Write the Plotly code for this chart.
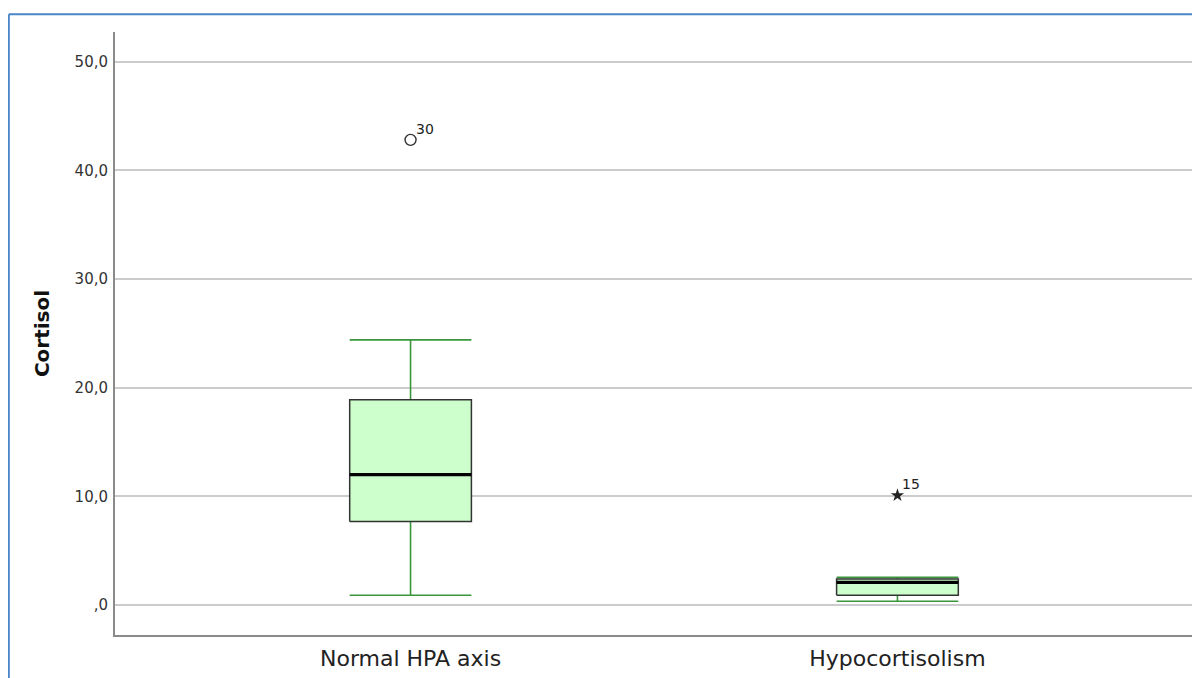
import plotly.graph_objects as go

# ---- data ----
categories = ["Normal HPA axis", "Hypocortisolism"]
positions = [0, 1]
q1 = [7.7, 0.9]
median = [12.0, 2.1]
q3 = [18.9, 2.4]
lower_whisker = [0.9, 0.35]
upper_whisker = [24.4, 2.55]
outlier_pos = [0]
outlier_val = [42.8]
outlier_lab = ["30"]
extreme_pos = [1]
extreme_val = [10.1]
extreme_lab = ["15"]
ytick_vals = [0, 10, 20, 30, 40, 50]
ytick_text = [",0", "10,0", "20,0", "30,0", "40,0", "50,0"]

BOX_W = 0.25
CAP_W = 0.125
GREEN = "#3a963a"
FONT = "DejaVu Sans"

fig = go.Figure()

# whiskers (green) drawn first
for p, lo, hi, a, b in zip(positions, lower_whisker, upper_whisker, q1, q3):
    for y0, y1 in ((lo, a), (b, hi)):
        fig.add_trace(go.Scatter(x=[p, p], y=[y0, y1], mode="lines",
                                 line=dict(color=GREEN, width=1.6),
                                 hoverinfo="skip", showlegend=False))
    for y in (lo, hi):
        fig.add_trace(go.Scatter(x=[p - CAP_W, p + CAP_W], y=[y, y], mode="lines",
                                 line=dict(color=GREEN, width=1.6),
                                 hoverinfo="skip", showlegend=False))

# boxes
for p, a, b in zip(positions, q1, q3):
    fig.add_trace(go.Scatter(
        x=[p - BOX_W / 2, p + BOX_W / 2, p + BOX_W / 2, p - BOX_W / 2, p - BOX_W / 2],
        y=[a, a, b, b, a], mode="lines", fill="toself", fillcolor="#ccffcc",
        line=dict(color="#333333", width=1.5), hoverinfo="skip", showlegend=False))

# medians
for p, m in zip(positions, median):
    fig.add_trace(go.Scatter(x=[p - BOX_W / 2, p + BOX_W / 2], y=[m, m], mode="lines",
                             line=dict(color="#000000", width=3.2),
                             hoverinfo="skip", showlegend=False))

# outliers
fig.add_trace(go.Scatter(x=outlier_pos, y=outlier_val, mode="markers",
                         marker=dict(symbol="circle-open", size=11, color="#333333",
                                     line=dict(width=1.4, color="#333333")),
                         showlegend=False))
fig.add_trace(go.Scatter(x=extreme_pos, y=extreme_val, mode="markers",
                         marker=dict(symbol="star", size=10, color="#222222"),
                         showlegend=False))
for xs, ys, labs in ((outlier_pos, outlier_val, outlier_lab), (extreme_pos, extreme_val, extreme_lab)):
    for x, y, t in zip(xs, ys, labs):
        fig.add_annotation(x=x, y=y, text=t, showarrow=False, xanchor="left", yanchor="bottom",
                           xshift=3, yshift=1, font=dict(family=FONT, size=14, color="#222222"))

fig.update_layout(
    width=1192, height=670,
    margin=dict(l=107, r=7, t=24, b=38),
    plot_bgcolor="white", paper_bgcolor="white",
    font=dict(family=FONT, color="#333333"),
    showlegend=False,
    xaxis=dict(range=[-0.607, 1.607], tickvals=positions, ticktext=categories,
               showgrid=False, zeroline=False, showline=True, linecolor="#8a8a8a",
               linewidth=2, ticks="", tickfont=dict(size=22, color="#222222"),
               ticklabelstandoff=3),
    yaxis=dict(range=[-2.75, 52.72], tickvals=ytick_vals, ticktext=ytick_text,
               showgrid=True, gridcolor="#cccccc", gridwidth=1.5, zeroline=False,
               showline=True, linecolor="#8a8a8a", linewidth=2, ticks="",
               tickfont=dict(size=15, color="#333333"), ticklabelstandoff=2,
               title=dict(text="<b>Cortisol</b>", font=dict(size=20, color="#111111"),
                          standoff=20)),
)

# outer blue frame
fig.add_shape(type="line", xref="paper", yref="paper", x0=-0.0985, x1=1.1, y0=1.0295, y1=1.0295,
              line=dict(color="#4a86c8", width=2))
fig.add_shape(type="line", xref="paper", yref="paper", x0=-0.0985, x1=-0.0985, y0=-0.2, y1=1.0295,
              line=dict(color="#4a86c8", width=2))

fig.write_html("out.html")
